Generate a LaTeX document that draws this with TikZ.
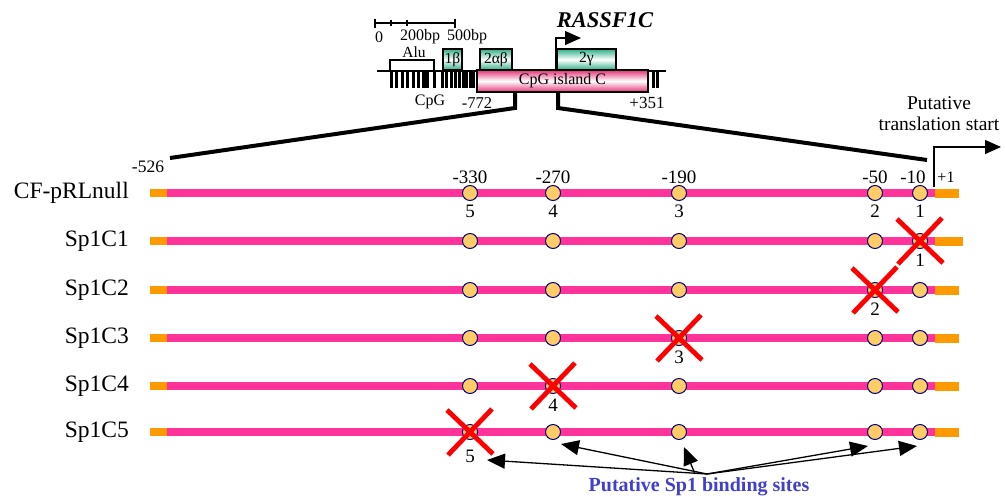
\documentclass[tikz,border=0pt]{standalone}
\usepackage{fontspec}
\setmainfont{Liberation Serif}
\usetikzlibrary{arrows.meta}
\definecolor{hotpink}{RGB}{255,51,153}
\definecolor{orangebar}{RGB}{255,153,0}
\definecolor{sitefill}{RGB}{255,204,102}
\definecolor{sitedraw}{RGB}{0,0,128}
\definecolor{boxgreen}{RGB}{45,175,135}
\definecolor{boxpink}{RGB}{228,50,118}
\definecolor{sponeblue}{RGB}{64,64,204}
\begin{document}
\begin{tikzpicture}[x=1pt,y=-1pt,
  site/.style={circle,draw=sitedraw,fill=sitefill,line width=1pt,minimum size=15pt,inner sep=0pt},
  rowlab/.style={anchor=east,inner sep=0pt,font=\fontsize{23.5}{26}\selectfont},
  poslab/.style={inner sep=0pt,font=\fontsize{19}{22}\selectfont},
  numlab/.style={inner sep=0pt,font=\fontsize{19}{22}\selectfont},
  small/.style={inner sep=0pt,font=\fontsize{15.5}{18}\selectfont},
  xline/.style={draw=red,line width=4.8pt},
  greenbox/.style={draw=black,line width=1.3pt,top color=boxgreen,bottom color=boxgreen,middle color=white,inner sep=0pt,font=\fontsize{15.5}{18}\selectfont},
  islandbox/.style={draw=black,line width=1.3pt,top color=boxpink,bottom color=boxpink,middle color=white,inner sep=0pt,font=\fontsize{16}{18}\selectfont},
  zoomline/.style={line width=4pt,line join=miter},
  thin/.style={line width=1.3pt},
  bigtip/.style={-{Triangle[length=16pt,width=14pt]}},
  sitearrow/.style={line width=1.3pt,-{Triangle[length=18pt,width=15pt]}}
]
\useasboundingbox (0,0) rectangle (1005,496);

% ---------- top gene map ----------
% scale bar
\draw[thin] (375,23) -- (455,23);
\draw[thin] (375,18.5) -- (375,27.5) (455,18.5) -- (455,27.5) (391,20) -- (391,26) (407,20) -- (407,26);
\node[small,font=\fontsize{16}{18}\selectfont] (s0) at (379,37) {0};
\node[small,font=\fontsize{16}{18}\selectfont] (s200) at (420,37) {200bp};
\node[small,font=\fontsize{16}{18}\selectfont] (s500) at (467,37) {500bp};
\node[inner sep=0pt,font=\fontsize{22.5}{24}\selectfont\bfseries\itshape] (gene) at (605,20) {RASSF1C};

% baseline and CpG ticks
\draw[thin] (377,71) -- (666,71);
\foreach \t in {391,396.5,402,407.5,413,418.5,434,442,446.5,451,455,459,463,466.5,470,473.5,653,657.5}
  \draw[line width=3pt] (\t,71) -- (\t,88);
\draw[line width=6.5pt] (425.5,71) -- (425.5,88);

% boxes
\node[draw=black,thin,fill=white,minimum width=44pt,minimum height=11pt,inner sep=0pt] (alu) at (412,65.5) {};
\node[small] (alut) at (414,52) {Alu};
\node[greenbox,minimum width=19pt,minimum height=21pt] (b1) at (452.5,59.5) {1β};
\node[greenbox,minimum width=32pt,minimum height=21pt] (b2) at (496,59.5) {2αβ};
\node[greenbox,minimum width=59pt,minimum height=21pt] (b3) at (586.5,59.5) {2γ};
\node[islandbox,minimum width=171pt,minimum height=22pt] (island) at (562.5,81) {CpG island C};
\node[small,font=\fontsize{16}{18}\selectfont] (cpg) at (430,102) {CpG};
\node[small,font=\fontsize{16.5}{18}\selectfont] (m772) at (477,103) {-772};
\node[small,font=\fontsize{17}{19}\selectfont] (p351) at (647,103) {+351};

% transcription start arrow
\coordinate (tss) at (556,70);
\coordinate (tssend) at (581,38);
\draw[thin,bigtip] (tss) |- (tssend);

% zoom lines
\coordinate (zl) at (170,158);
\coordinate (zr) at (927,160);
\draw[zoomline] (island.south -| 515,0) -- (515,108) -- (zl);
\draw[zoomline] (island.south -| 558,0) -- (558,108) -- (zr);

% translation start
\node[poslab,align=center,font=\fontsize{19.5}{21}\selectfont] (tls) at (939,114) {Putative\\translation start};
\coordinate (tlsa) at (934,187);
\coordinate (tlsb) at (1001,147);
\draw[thin,bigtip] (tlsa) |- (tlsb);
\node[inner sep=0pt,font=\fontsize{16}{18}\selectfont] (p1) at (946,177) {+1};
\node[inner sep=0pt,font=\fontsize{17.5}{19}\selectfont] (m526) at (148,167) {-526};

% ---------- rows ----------
\foreach \y/\lab/\rend [count=\i from 0] in {193/CF-pRLnull/959,241/Sp1C1/963,290/Sp1C2/959,338/Sp1C3/959,386/Sp1C4/959,432/Sp1C5/959}{
  \fill[orangebar] (150,{\y-4}) rectangle (168,{\y+4});
  \fill[hotpink] (167,{\y-4}) rectangle (938,{\y+4});
  \fill[orangebar] (935,{\y-4}) rectangle (\rend,{\y+4.5});
  \node[rowlab] (lab\i) at (129,\y) {\lab};
  \foreach \x/\k in {470/5,553/4,679/3,875/2,920/1}
    \node[site] (s\i-\k) at (\x,\y) {};
}

% position labels for CF row
\foreach \x/\k/\p in {470/5/-330,553/4/-270,679/3/-190,875/2/-50,913/1/-10}
  \node[poslab] (pos\k) at (\x,177) {\p};
\foreach \k in {5,4,3,2,1}
  \node[numlab] (n0-\k) at ([shift={(0,18)}]s0-\k.center) {\k};

% red crosses
\foreach \i in {1,2,3,4,5}{
  \draw[xline] ([shift={(-23,-22)}]s\i-\i.center) -- ([shift={(23,22)}]s\i-\i.center);
  \draw[xline] ([shift={(22,-23)}]s\i-\i.center) -- ([shift={(-22,23)}]s\i-\i.center);
}
\foreach \i in {1,2,3,4}
  \node[numlab] (n\i-\i) at ([shift={(0,19)}]s\i-\i.center) {\i};
\node[numlab] (n5-5) at ([shift={(0,24)}]s5-5.center) {5};

% binding-site arrows
\node[inner sep=0pt,text=sponeblue,font=\fontsize{20}{22}\selectfont\bfseries] (sp1) at (699,487) {Putative Sp1 binding sites};
\coordinate (src) at (707,474);
\coordinate (src3) at (695,474);
\coordinate (t5) at (487,460);
\coordinate (t4) at (561,444);
\coordinate (t3) at (684,447);
\coordinate (t2) at (868,446);
\coordinate (t1) at (917,446);
\draw[sitearrow] (src) -- (t5);
\draw[sitearrow] (src) -- (t4);
\draw[sitearrow] (src3) -- (t3);
\draw[sitearrow] (src) -- (t2);
\draw[sitearrow] (src) -- (t1);
\end{tikzpicture}
\end{document}
